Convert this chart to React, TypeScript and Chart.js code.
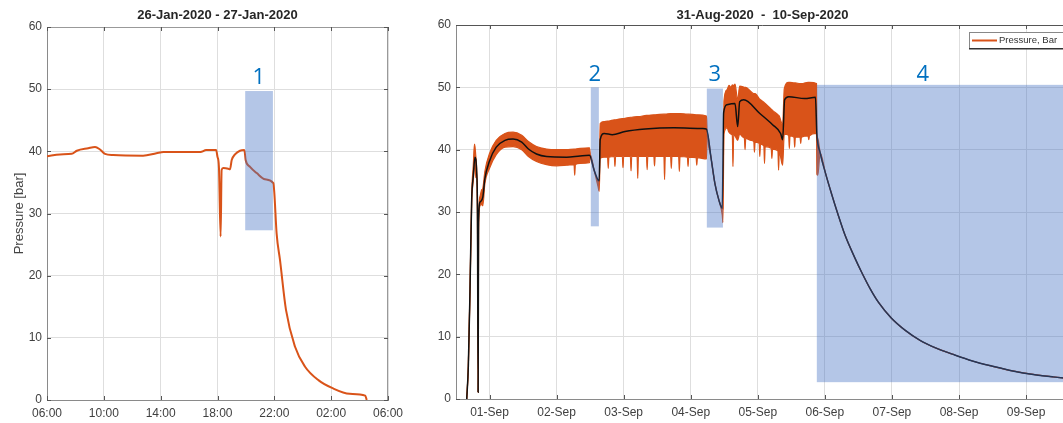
import React, { useEffect, useRef } from 'react';
import { Chart, registerables } from 'chart.js';
Chart.register(...registerables);

const FONT = '"Liberation Sans", Arial, Helvetica, sans-serif';
const ORANGE = 'rgb(217,83,25)';
const OVERLAY = 'rgba(68,113,195,0.4)';
const LABEL_BLUE = '#0070C0';
const GRID = '#dedede';
const TICK_TEXT = '#404040';

// ---------- Left panel: 26-Jan-2020 - 27-Jan-2020 (hours after 06:00) ----------
const janTitle = '26-Jan-2020 - 27-Jan-2020';
const janTickLabels = ['06:00', '10:00', '14:00', '18:00', '22:00', '02:00', '06:00'];
const janHours = [0, 0.92, 1.74, 2.1, 2.9, 3.38, 3.73, 4.08, 4.65, 6.76, 7.7, 8.2, 10.8, 11.2, 11.9, 12.0, 12.1, 12.22, 12.29, 12.4, 12.76, 12.88, 13.0, 13.23, 13.58, 13.89, 13.98, 14.29, 14.76, 15.34, 15.93, 16.0, 16.16, 16.4, 16.82, 17.45, 18.15, 19.1, 20.1, 21.3, 22.4, 22.5];
const janPressure = [39.2, 39.5, 39.6, 40.1, 40.5, 40.7, 40.3, 39.6, 39.4, 39.3, 39.7, 39.9, 39.9, 40.2, 40.2, 39.1, 37.5, 26.3, 37.0, 37.3, 37.2, 37.1, 38.6, 39.5, 40.1, 40.2, 38.6, 37.5, 36.5, 35.5, 34.9, 33.3, 26.8, 22.5, 14.5, 8.6, 5.4, 3.2, 1.9, 1.0, 0.7, 0];
const janRegions = [{ x0: 13.95, x1: 15.9, y0: 27.3, y1: 49.7 }];
const janRegionLabels = [{ text: '1', x: 14.9, y: 51.8 }];

// ---------- Right panel: 31-Aug-2020 - 10-Sep-2020 (days after 31-Aug 00:00) ----------
const sepTitle = '31-Aug-2020  -  10-Sep-2020';
const sepTickLabels = ['01-Sep', '02-Sep', '03-Sep', '04-Sep', '05-Sep', '06-Sep', '07-Sep', '08-Sep', '09-Sep'];
const sepLegendLabel = 'Pressure, Bar';

// shut-in decay after 06-Sep (shared by mean and band)
const sepDecayDays = [6.01, 6.1, 6.19, 6.3, 6.44, 6.55, 6.68, 6.8, 6.99, 7.2, 7.42, 7.65, 7.9, 8.2, 8.52, 8.8, 9.13, 9.4, 9.64];
const sepDecay = [36.2, 32.9, 29.8, 26.3, 22.8, 20.3, 17.6, 15.5, 13.0, 11.0, 9.4, 8.2, 7.2, 6.1, 5.2, 4.5, 3.9, 3.55, 3.3];

const sepMeanDays = [0.66, 0.684, 0.709, 0.734, 0.758, 0.783, 0.808, 0.82, 0.83, 0.836, 0.858, 0.9, 0.93, 1.0, 1.1, 1.23, 1.35, 1.48, 1.58, 1.7, 1.85, 2.15, 2.35, 2.49, 2.56, 2.62, 2.635, 2.65, 2.71, 2.83, 3.02, 3.32, 3.75, 4.18, 4.235, 4.3, 4.36, 4.42, 4.47, 4.49, 4.54, 4.66, 4.7, 4.73, 4.79, 5.03, 5.22, 5.34, 5.37, 5.4, 5.46, 5.7, 5.86, 5.88, 5.93];
const sepMean = [0, 5.3, 17.6, 32, 35.8, 38.8, 36.4, 30, 1.1, 28.3, 31.6, 32.4, 35.3, 38.2, 40.4, 41.5, 41.7, 41.2, 40.1, 39.3, 38.9, 38.8, 39.0, 39.1, 36.7, 35.1, 35.0, 41.6, 42.6, 42.4, 42.9, 43.3, 43.5, 43.4, 43.3, 38.9, 34.6, 31.9, 30.6, 45.9, 47.2, 47.4, 43.7, 47.7, 48.0, 45.8, 44.0, 42.6, 41.6, 48.0, 48.5, 48.2, 48.4, 42.7, 39.5];

const sepBandDays = [0.66, 0.684, 0.709, 0.734, 0.758, 0.775, 0.783, 0.795, 0.808, 0.82, 0.83, 0.836, 0.858, 0.88, 0.9, 0.93, 1.0, 1.1, 1.23, 1.35, 1.48, 1.58, 1.7, 1.85, 2.0, 2.15, 2.26, 2.27, 2.28, 2.35, 2.49,
  2.505, 2.56, 2.62, 2.635,
  2.65, 2.71, 2.76, 2.77, 2.78, 2.86, 2.87, 2.88, 2.98, 2.99, 3.0, 3.1, 3.11, 3.12, 3.2, 3.21, 3.22, 3.34, 3.35, 3.36, 3.45, 3.46, 3.47, 3.6, 3.61, 3.62, 3.7, 3.71, 3.72, 3.82, 3.83, 3.84, 3.95, 3.96, 3.97, 4.08, 4.09, 4.1, 4.235,
  4.245, 4.3, 4.36, 4.42, 4.47, 4.48,
  4.495, 4.54, 4.57, 4.6, 4.62, 4.63, 4.64, 4.66, 4.7, 4.73, 4.78, 4.8, 4.81, 4.82, 4.9, 4.94, 4.95, 4.96, 5.02, 5.03, 5.04, 5.09, 5.1, 5.11, 5.2, 5.21, 5.22, 5.3, 5.31, 5.32, 5.37,
  5.395, 5.46, 5.47, 5.48, 5.54, 5.55, 5.56, 5.63, 5.64, 5.65, 5.75, 5.76, 5.77, 5.875,
  5.882, 5.895, 5.93];
const sepUpper = [0, 5.3, 17.8, 32.8, 37.5, 40.9, 40.5, 39, 37, 30, 1.1, 28.5, 32.5, 33.5, 33.8, 36.5, 39.4, 41.5, 42.6, 42.8, 42.3, 41.3, 40.5, 40.1, 40.0, 40.0, 40.1, 40.1, 40.1, 40.2, 40.3,
  39.1, 36.7, 35.1, 35.2,
  44.2, 44.5, 44.6, 44.6, 44.6, 44.8, 44.8, 44.8, 45.0, 45.0, 45.0, 45.2, 45.2, 45.2, 45.3, 45.3, 45.3, 45.5, 45.5, 45.5, 45.6, 45.6, 45.6, 45.7, 45.7, 45.7, 45.8, 45.8, 45.8, 45.8, 45.8, 45.8, 45.7, 45.7, 45.7, 45.6, 45.6, 45.6, 45.4,
  42.8, 38.9, 34.6, 31.9, 30.6, 30.5,
  47.8, 49.6, 50.3, 50.0, 50.4, 50.3, 50.3, 50.5, 48.0, 50.2, 50.1, 50.0, 50.0, 50.0, 49.3, 49.0, 49.0, 49.0, 48.2, 48.1, 48.0, 47.6, 47.5, 47.4, 46.5, 46.4, 46.3, 45.6, 45.5, 45.4, 44.0,
  49.8, 50.8, 50.8, 50.8, 50.7, 50.7, 50.7, 50.6, 50.6, 50.6, 50.8, 50.8, 50.8, 50.6,
  42.7, 41.8, 39.5];
const sepLower = [0, 5.3, 17.4, 31.5, 35, 37.5, 38, 35.5, 35.5, 30, 1.1, 27, 31, 31.2, 31.0, 34.5, 37.0, 39.2, 40.4, 40.5, 40.0, 38.9, 38.1, 37.6, 37.4, 37.5, 37.6, 35.9, 37.6, 37.8, 37.9,
  39.1, 36.7, 34.0, 33.3,
  38.6, 38.8, 38.8, 37.0, 38.8, 38.9, 37.3, 38.9, 38.9, 37.1, 38.9, 38.9, 36.6, 38.9, 38.9, 35.4, 38.9, 38.9, 36.8, 38.9, 38.9, 37.4, 38.9, 38.9, 35.2, 38.9, 38.9, 37.0, 38.9, 38.9, 36.5, 38.9, 38.8, 37.3, 38.8, 38.7, 37.5, 38.7, 38.5,
  42.8, 38.9, 34.6, 31.9, 29.5, 28.3,
  42.5, 43.5, 42.8, 42.5, 42.3, 37.3, 42.3, 42.2, 41.5, 42.5, 42.0, 41.8, 40.0, 41.8, 41.5, 41.3, 39.6, 41.2, 41.0, 38.9, 40.9, 40.6, 37.8, 40.5, 40.2, 38.6, 40.1, 39.8, 36.7, 39.6, 37.5,
  42.5, 42.3, 40.2, 42.2, 42.0, 40.4, 42.0, 42.0, 41.0, 42.0, 42.2, 41.6, 42.2, 42.6,
  36.0, 35.9, 39.5];

const sepRegions = [
  { x0: 2.51, x1: 2.63, y0: 27.7, y1: 50.0 },
  { x0: 4.24, x1: 4.48, y0: 27.5, y1: 49.8 },
  { x0: 5.88, x1: 10.5, y0: 2.7, y1: 50.4 },
];
const sepRegionLabels = [
  { text: '2', x: 2.57, y: 52.0 },
  { text: '3', x: 4.36, y: 52.0 },
  { text: '4', x: 7.46, y: 52.0 },
];

const pts = (xs: number[], ys: number[]) => xs.map((x, i) => ({ x, y: ys[i] }));

function makeDecor(cfg: any) {
  return {
    id: 'decor' + cfg.name,
    afterDatasetsDraw(chart: any) {
      const { ctx, chartArea: ca, scales } = chart;
      const x = scales.x, y = scales.y;
      ctx.save();
      ctx.beginPath();
      ctx.rect(ca.left, ca.top, ca.right - ca.left, ca.bottom - ca.top);
      ctx.clip();
      ctx.fillStyle = OVERLAY;
      for (const r of cfg.regions) {
        const x0 = x.getPixelForValue(r.x0), x1 = x.getPixelForValue(r.x1);
        const y0 = y.getPixelForValue(r.y0), y1 = y.getPixelForValue(r.y1);
        ctx.fillRect(x0, y1, x1 - x0, y0 - y1);
      }
      ctx.restore();

      ctx.save();
      ctx.font = '22px "Open Sans", ' + FONT;
      ctx.fillStyle = LABEL_BLUE;
      ctx.textAlign = 'center';
      ctx.textBaseline = 'middle';
      for (const l of cfg.labels) {
        ctx.fillText(l.text, x.getPixelForValue(l.x), y.getPixelForValue(l.y));
      }
      ctx.restore();

      // box top/right
      ctx.save();
      ctx.lineWidth = 1;
      ctx.strokeStyle = cfg.topColor;
      ctx.beginPath();
      ctx.moveTo(ca.left, ca.top + 0.5);
      ctx.lineTo(ca.right, ca.top + 0.5);
      ctx.stroke();
      ctx.strokeStyle = cfg.boxColor;
      ctx.beginPath();
      ctx.moveTo(ca.right - 0.5, ca.top);
      ctx.lineTo(ca.right - 0.5, ca.bottom);
      ctx.stroke();
      // inside ticks
      ctx.strokeStyle = '#555';
      const tl = 4;
      ctx.beginPath();
      for (const t of x.ticks) {
        const px = Math.round(x.getPixelForValue(t.value)) + 0.5;
        ctx.moveTo(px, ca.bottom); ctx.lineTo(px, ca.bottom - tl);
        ctx.moveTo(px, ca.top); ctx.lineTo(px, ca.top + tl);
      }
      for (const t of y.ticks) {
        const py = Math.round(y.getPixelForValue(t.value)) + 0.5;
        ctx.moveTo(ca.left, py); ctx.lineTo(ca.left + tl, py);
        ctx.moveTo(ca.right, py); ctx.lineTo(ca.right - tl, py);
      }
      ctx.stroke();
      ctx.restore();

      // title
      ctx.save();
      ctx.font = 'bold 13px ' + FONT;
      ctx.fillStyle = '#262626';
      ctx.textAlign = 'center';
      ctx.textBaseline = 'middle';
      ctx.fillText(cfg.title, (ca.left + ca.right) / 2, 15);
      ctx.restore();

      if (cfg.legend) {
        ctx.save();
        const lx = ca.right - 100, ly = ca.top + 7, lw = 95, lh = 16;
        ctx.fillStyle = '#fff';
        ctx.fillRect(lx, ly, lw, lh);
        ctx.strokeStyle = '#888';
        ctx.lineWidth = 1;
        ctx.strokeRect(lx + 0.5, ly + 0.5, lw, lh);
        ctx.strokeStyle = '#333';
        ctx.lineWidth = 1.5;
        ctx.beginPath();
        ctx.moveTo(lx, ly + lh + 0.75);
        ctx.lineTo(lx + lw + 1, ly + lh + 0.75);
        ctx.stroke();
        ctx.strokeStyle = ORANGE;
        ctx.lineWidth = 2;
        ctx.beginPath();
        ctx.moveTo(lx + 3, ly + 8.5);
        ctx.lineTo(lx + 28, ly + 8.5);
        ctx.stroke();
        ctx.font = '9.5px ' + FONT;
        ctx.fillStyle = '#333';
        ctx.textBaseline = 'middle';
        ctx.fillText(cfg.legend, lx + 30, ly + 8.5);
        ctx.restore();
      }
    },
  };
}

function baseScales(xOpts: any, yOpts: any, yWidth: number, xHeight: number) {
  return {
    x: {
      type: 'linear',
      ...xOpts,
      grid: { color: GRID, drawTicks: false, lineWidth: 1 },
      border: { color: '#8a8a8a', width: 1 },
      ticks: { ...xOpts.ticks, font: { family: FONT, size: 12 }, color: TICK_TEXT, padding: 6, maxRotation: 0 },
      afterFit: (s: any) => { s.height = xHeight; },
    },
    y: {
      type: 'linear',
      min: 0,
      max: 60,
      ...yOpts,
      grid: { color: GRID, drawTicks: false, lineWidth: 1 },
      border: { color: '#8a8a8a', width: 1 },
      ticks: { stepSize: 10, font: { family: FONT, size: 12 }, color: TICK_TEXT, padding: 5 },
      afterFit: (s: any) => { s.width = yWidth; },
    },
  };
}

export default function App() {
  const janRef = useRef<HTMLCanvasElement>(null);
  const sepRef = useRef<HTMLCanvasElement>(null);

  useEffect(() => {
    const common = {
      animation: false,
      responsive: false,
      devicePixelRatio: 1,
      plugins: { legend: { display: false }, tooltip: { enabled: false }, title: { display: false } },
      elements: { point: { radius: 0 } },
    };

    const jan = new Chart(janRef.current!, {
      type: 'line',
      data: {
        datasets: [
          {
            data: pts(janHours, janPressure),
            borderColor: ORANGE,
            borderWidth: 2,
            fill: false,
            cubicInterpolationMode: 'monotone',
          },
        ],
      },
      options: {
        ...common,
        layout: { padding: { left: 0, top: 27, right: 32, bottom: 0 } },
        scales: {
          ...baseScales(
            { min: 0, max: 24, ticks: { stepSize: 4, callback: (v: any) => janTickLabels[Math.round(v / 4)] ?? '' } },
            {
              title: {
                display: true,
                text: 'Pressure [bar]',
                font: { family: FONT, size: 13 },
                color: '#444',
                padding: { top: 12, bottom: 0 },
              },
            },
            47,
            23,
          ),
        },
      } as any,
      plugins: [makeDecor({ name: 'jan', regions: janRegions, labels: janRegionLabels, title: janTitle, topColor: '#999', boxColor: '#999' })],
    } as any);

    const meanDays = [...sepMeanDays, ...sepDecayDays];
    const meanVals = [...sepMean, ...sepDecay];
    const bandDays = [...sepBandDays, ...sepDecayDays];
    const upperVals = [...sepUpper, ...sepDecay];
    const lowerVals = [...sepLower, ...sepDecay];

    const sep = new Chart(sepRef.current!, {
      type: 'line',
      data: {
        datasets: [
          {
            data: pts(meanDays, meanVals),
            borderColor: '#111',
            borderWidth: 1.5,
            fill: false,
            cubicInterpolationMode: 'monotone',
          },
          {
            data: pts(bandDays, upperVals),
            borderColor: ORANGE,
            backgroundColor: ORANGE,
            borderWidth: 1.2,
            fill: '+1',
            cubicInterpolationMode: 'monotone',
          },
          {
            data: pts(bandDays, lowerVals),
            borderColor: ORANGE,
            borderWidth: 1.2,
            fill: false,
            cubicInterpolationMode: 'monotone',
          },
        ],
      },
      options: {
        ...common,
        layout: { padding: { left: 0, top: 25, right: 11, bottom: 0 } },
        scales: {
          ...baseScales(
            {
              min: 0.5,
              max: 9.64,
              ticks: { stepSize: 1, includeBounds: false, callback: (v: any) => sepTickLabels[Math.round(v) - 1] ?? '' },
            },
            {},
            36,
            24,
          ),
        },
      } as any,
      plugins: [makeDecor({ name: 'sep', regions: sepRegions, labels: sepRegionLabels, title: sepTitle, topColor: '#555', boxColor: '#555', legend: sepLegendLabel })],
    } as any);

    return () => {
      jan.destroy();
      sep.destroy();
    };
  }, []);

  return (
    <div style={{ position: 'fixed', left: 0, top: 0, width: 1063, height: 423, overflow: 'hidden', background: '#fff' }}>
      <canvas ref={janRef} width={420} height={423} style={{ position: 'absolute', left: 0, top: 0 }} />
      <canvas ref={sepRef} width={660} height={423} style={{ position: 'absolute', left: 420, top: 0 }} />
    </div>
  );
}
